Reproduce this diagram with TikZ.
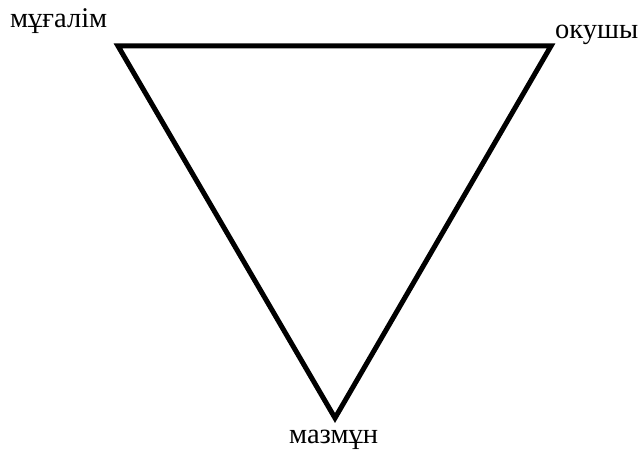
\documentclass[tikz,border=0pt]{standalone}
\usepackage{fontspec}
\setmainfont{Liberation Serif}
\begin{document}
\begin{tikzpicture}[x=1pt,y=-1pt,
  edge/.style={line width=5pt,line join=miter,black},
  lbl/.style={inner sep=0pt,anchor=base west,font=\fontsize{28.5}{32}\selectfont}]
\useasboundingbox (0,0) rectangle (642,452);
\coordinate (A) at (118,46);
\coordinate (B) at (551,46);
\coordinate (C) at (335,418);
\draw[edge] (A) -- (B) -- (C) -- cycle;
\node[lbl] (t) at (10,28) {мұғалім};
\node[lbl] (s) at (555,38) {окушы};
\node[lbl] (m) at (289,443) {мазмұн};
\end{tikzpicture}
\end{document}
